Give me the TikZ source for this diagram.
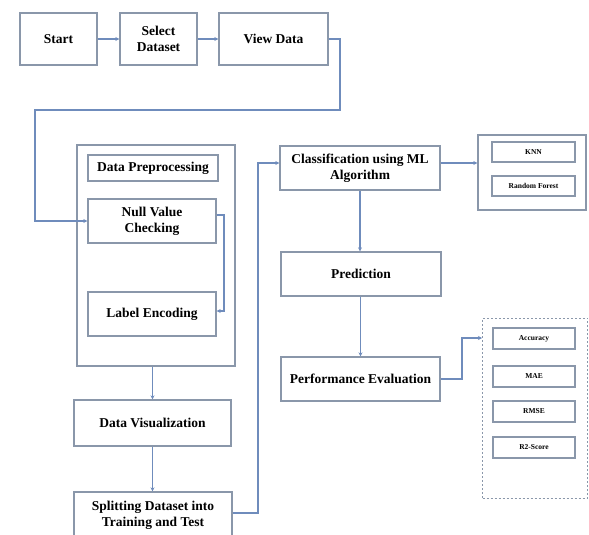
\documentclass[tikz,border=0pt]{standalone}
\usepackage{fontspec}
\setmainfont{Liberation Serif}
\usetikzlibrary{arrows.meta}
\definecolor{boxc}{HTML}{8A97AA}
\definecolor{linec}{HTML}{6F8CBC}
\tikzset{
  box/.style={draw=boxc, line width=1.3pt, fill=white, align=center, inner sep=1pt,
    font=\fontsize{13.5}{16}\selectfont\bfseries, anchor=center},
  small/.style={draw=boxc, line width=1.1pt, fill=white, align=center, inner sep=1pt,
    font=\fontsize{7.5}{8}\selectfont\bfseries, anchor=center},
  grp/.style={draw=boxc, line width=1.3pt, anchor=center, inner sep=0pt},
  conn/.style={draw=linec, line width=1.1pt, -{Stealth[length=4pt,width=4pt]}},
}
\begin{document}
\begin{tikzpicture}[x=1pt,y=-1pt]
\useasboundingbox (0,0) rectangle (589,535);
% top row
\node[box, minimum width=77pt, minimum height=52pt] (start) at (58.5,39) {Start};
\node[box, minimum width=77pt, minimum height=52pt] (select) at (158.5,39) {Select\\Dataset};
\node[box, minimum width=109pt, minimum height=52pt] (view) at (273.5,39) {View Data};
% preprocessing group
\node[grp, minimum width=158pt, minimum height=221pt] (prep) at (156,255.5) {};
\node[box, minimum width=130pt, minimum height=26pt] (dp) at (153,168) {Data Preprocessing};
\node[box, minimum width=128pt, minimum height=44pt] (null) at (152,221) {Null Value\\Checking};
\node[box, minimum width=128pt, minimum height=44pt] (label) at (152,314) {Label Encoding};
% left lower column
\node[box, minimum width=157pt, minimum height=46pt] (viz) at (152.5,423) {Data Visualization};
\node[box, minimum width=158pt, minimum height=46pt] (split) at (153,515) {Splitting Dataset into\\Training and Test};
% middle column
\node[box, minimum width=160pt, minimum height=44pt] (class) at (360,168) {Classification using ML\\Algorithm};
\node[box, minimum width=160pt, minimum height=44pt] (pred) at (361,274) {Prediction};
\node[box, minimum width=159pt, minimum height=44pt] (perf) at (360.5,379) {Performance Evaluation};
% models group
\node[grp, minimum width=108pt, minimum height=75pt] (models) at (532,172.5) {};
\node[small, minimum width=83pt, minimum height=20pt] (knn) at (533.5,152) {KNN};
\node[small, minimum width=83pt, minimum height=20pt] (rf) at (533.5,186) {Random Forest};
% metrics group
\node[grp, dash pattern=on 2pt off 2pt, line width=1pt, minimum width=105pt, minimum height=180pt] (metrics) at (535,408) {};
\node[small, minimum width=82pt, minimum height=21pt] (acc) at (534,338.5) {Accuracy};
\node[small, minimum width=82pt, minimum height=21pt] (mae) at (534,376.5) {MAE};
\node[small, minimum width=82pt, minimum height=21pt] (rmse) at (534,411.5) {RMSE};
\node[small, minimum width=82pt, minimum height=21pt] (r2) at (534,447.5) {R2-Score};
% connectors
\draw[conn] (start) -- (select);
\draw[conn] (select) -- (view);
\coordinate (v1) at (340,39);
\coordinate (v2) at (340,110);
\coordinate (v3) at (35,110);
\coordinate (v4) at (35,221);
\draw[conn] (view.east) -- (v1) -- (v2) -- (v3) -- (v4) -- (null.west);
\coordinate (n1) at (224,215);
\coordinate (n2) at (224,311);
\draw[conn] (null.east |- n1) -- (n1) -- (n2) -- (label.east |- n2);
\draw[conn] (prep.south -| viz.north) -- (viz.north);
\draw[conn] (viz.south) -- (viz.south |- split.north);
\coordinate (s1) at (258,513);
\coordinate (s2) at (258,163);
\draw[conn] (split.east |- s1) -- (s1) -- (s2) -- (class.west |- s2);
\draw[conn] (class.east |- s2) -- (models.west |- s2);
\draw[conn] (class.south) -- (pred.north -| class.south);
\draw[conn] (pred.south -| perf.north) -- (perf.north);
\coordinate (p1) at (462,379);
\coordinate (p2) at (462,338);
\draw[conn] (perf.east) -- (p1) -- (p2) -- (metrics.west |- p2);
\end{tikzpicture}
\end{document}
